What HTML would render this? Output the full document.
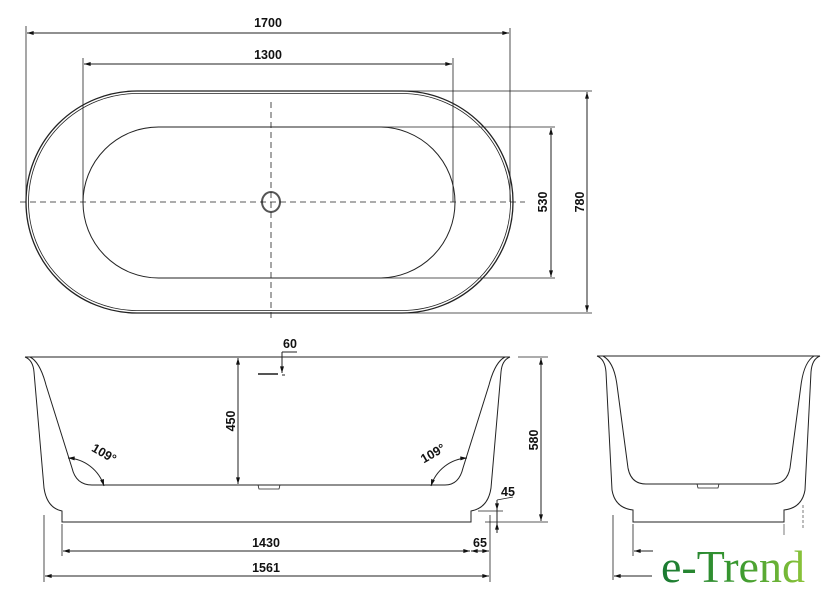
<!DOCTYPE html>
<html><head><meta charset="utf-8"><style>
html,body{margin:0;padding:0;background:#fff;}
svg{display:block}
text{font-family:"Liberation Sans Narrow","Liberation Sans",sans-serif;font-weight:bold;font-size:12.5px;fill:#111}
</style></head><body>
<svg width="840" height="601" viewBox="0 0 840 601" xmlns="http://www.w3.org/2000/svg">
<defs>
<marker id="a" viewBox="0 0 10 6" refX="10" refY="3" markerWidth="8" markerHeight="4" orient="auto-start-reverse"><path d="M0,0L10,3L0,6z" fill="#111"/></marker>
<linearGradient id="g" x1="0" x2="1"><stop offset="0" stop-color="#1a7a32"/><stop offset="0.55" stop-color="#3c9a30"/><stop offset="1" stop-color="#8cc43a"/></linearGradient>
</defs>
<g stroke="#222" stroke-width="1" fill="none">
<rect x="26" y="91" width="487" height="222" rx="111" ry="111" stroke-width="1.3"/>
<rect x="28.5" y="93.5" width="482" height="217" rx="108.5" ry="108.5" stroke-width="0.8"/>
<rect x="83" y="127" width="372" height="151" rx="75.5" ry="75.5"/>
<ellipse cx="271" cy="202" rx="9" ry="10" stroke-width="2" stroke="#555"/>
<line x1="20" y1="202" x2="525" y2="202" stroke-dasharray="6,4" stroke-width="0.8"/>
<line x1="271" y1="102" x2="271" y2="322" stroke-dasharray="6,4" stroke-width="0.8"/>
<line x1="26" y1="26" x2="26" y2="202" stroke-width="0.8"/>
<line x1="510" y1="28" x2="510" y2="202" stroke-width="0.8"/>
<line x1="27" y1="33" x2="509" y2="33" marker-start="url(#a)" marker-end="url(#a)"/>
<line x1="83" y1="58" x2="83" y2="202" stroke-width="0.8"/>
<line x1="453" y1="58" x2="453" y2="202" stroke-width="0.8"/>
<line x1="84" y1="64" x2="452" y2="64" marker-start="url(#a)" marker-end="url(#a)"/>
<line x1="400" y1="91" x2="592" y2="91" stroke-width="0.8"/>
<line x1="400" y1="313" x2="592" y2="313" stroke-width="0.8"/>
<line x1="587" y1="92" x2="587" y2="312" marker-start="url(#a)" marker-end="url(#a)"/>
<line x1="380" y1="127" x2="555" y2="127" stroke-width="0.8"/>
<line x1="380" y1="278" x2="555" y2="278" stroke-width="0.8"/>
<line x1="551" y1="128" x2="551" y2="277" marker-start="url(#a)" marker-end="url(#a)"/>

<line x1="25" y1="357" x2="510" y2="357"/>
<path d="M25,357 Q33,360 34,372 L44,488 Q47,508 62,511 L62,522 L471,522 L471,511 Q488,508 491,488 L501,372 Q502,360 510,357"/>
<path d="M30,357 Q40,362 46,385 L72,468 Q76,485 92,485 L445,485 Q459,485 463,468 L489,385 Q495,362 505,357"/>
<path d="M258,485 L259,489 L279,489 L280,485" stroke-width="0.8"/>
<line x1="258" y1="374" x2="278" y2="374" stroke-width="2" stroke="#555"/>
<line x1="238" y1="358" x2="238" y2="484" marker-start="url(#a)" marker-end="url(#a)"/>
<line x1="282" y1="352" x2="282" y2="373" marker-end="url(#a)"/>
<line x1="282" y1="352" x2="297" y2="352"/>
<line x1="282" y1="375" x2="285" y2="375"/>
<path d="M68,458 A40,40 0 0 1 104,486" marker-start="url(#a)" marker-end="url(#a)"/>
<path d="M431,486 A40,40 0 0 1 467,458" marker-start="url(#a)" marker-end="url(#a)"/>
<line x1="518" y1="357" x2="548" y2="357" stroke-width="0.8"/>
<line x1="485" y1="522" x2="548" y2="522" stroke-width="0.8"/>
<line x1="541" y1="358" x2="541" y2="521" marker-start="url(#a)" marker-end="url(#a)"/>
<line x1="478" y1="511" x2="503" y2="511" stroke-width="0.8"/>
<line x1="497" y1="500" x2="497" y2="510" marker-end="url(#a)"/>
<line x1="497" y1="533" x2="497" y2="523" marker-end="url(#a)"/>
<line x1="497" y1="510" x2="497" y2="523"/>
<line x1="497" y1="500" x2="513" y2="497" stroke-width="0.8"/>
<line x1="490" y1="515" x2="490" y2="582" stroke-width="0.8"/>
<line x1="62" y1="524" x2="62" y2="556" stroke-width="0.8"/>
<line x1="44" y1="515" x2="44" y2="582" stroke-width="0.8"/>
<line x1="63" y1="551" x2="470" y2="551" marker-start="url(#a)" marker-end="url(#a)"/>
<line x1="471" y1="551" x2="489" y2="551" marker-start="url(#a)" marker-end="url(#a)"/>
<line x1="45" y1="576" x2="489" y2="576" marker-start="url(#a)" marker-end="url(#a)"/>

<line x1="597" y1="356" x2="820" y2="356"/>
<path d="M597,356 Q605,359 606,372 L612,490 Q615,508 633,510 L633,522 L784,522 L784,510 Q802,508 805,490 L811,372 Q812,359 820,356"/>
<path d="M603,356 Q614,362 617,385 L628,468 Q631,484 646,484 L772,484 Q787,484 790,468 L801,385 Q804,362 814,356"/>
<path d="M697,484 L698,488 L718,488 L719,484" stroke-width="0.8"/>
<line x1="613" y1="515" x2="613" y2="580" stroke-width="0.8"/>
<line x1="633" y1="524" x2="633" y2="556" stroke-width="0.8"/>
<line x1="634" y1="551" x2="653" y2="551" marker-start="url(#a)"/>
<line x1="614" y1="576" x2="652" y2="576" marker-start="url(#a)"/>
<line x1="803" y1="505" x2="803" y2="530" stroke-width="0.6" stroke-dasharray="3,2"/>
<line x1="784" y1="524" x2="784" y2="535" stroke-width="0.6"/>
</g>
<text x="268" y="27" text-anchor="middle">1700</text>
<text x="268" y="59" text-anchor="middle">1300</text>
<text transform="translate(547,202) rotate(-90)" text-anchor="middle">530</text>
<text transform="translate(584,202) rotate(-90)" text-anchor="middle">780</text>
<text x="290" y="348" text-anchor="middle">60</text>
<text transform="translate(235,421) rotate(-90)" text-anchor="middle">450</text>
<text transform="translate(538,440) rotate(-90)" text-anchor="middle">580</text>
<text x="508" y="496" text-anchor="middle">45</text>
<text x="266" y="547" text-anchor="middle">1430</text>
<text x="480" y="547" text-anchor="middle">65</text>
<text x="266" y="572" text-anchor="middle">1561</text>
<text transform="translate(102,457) rotate(30)" text-anchor="middle">109°</text>
<text transform="translate(435,457) rotate(-30)" text-anchor="middle">109°</text>
<text x="661" y="582" style="font-family:'Liberation Serif',serif;font-weight:normal;font-size:46px;fill:url(#g)">e-Trend</text>
</svg>
</body></html>
